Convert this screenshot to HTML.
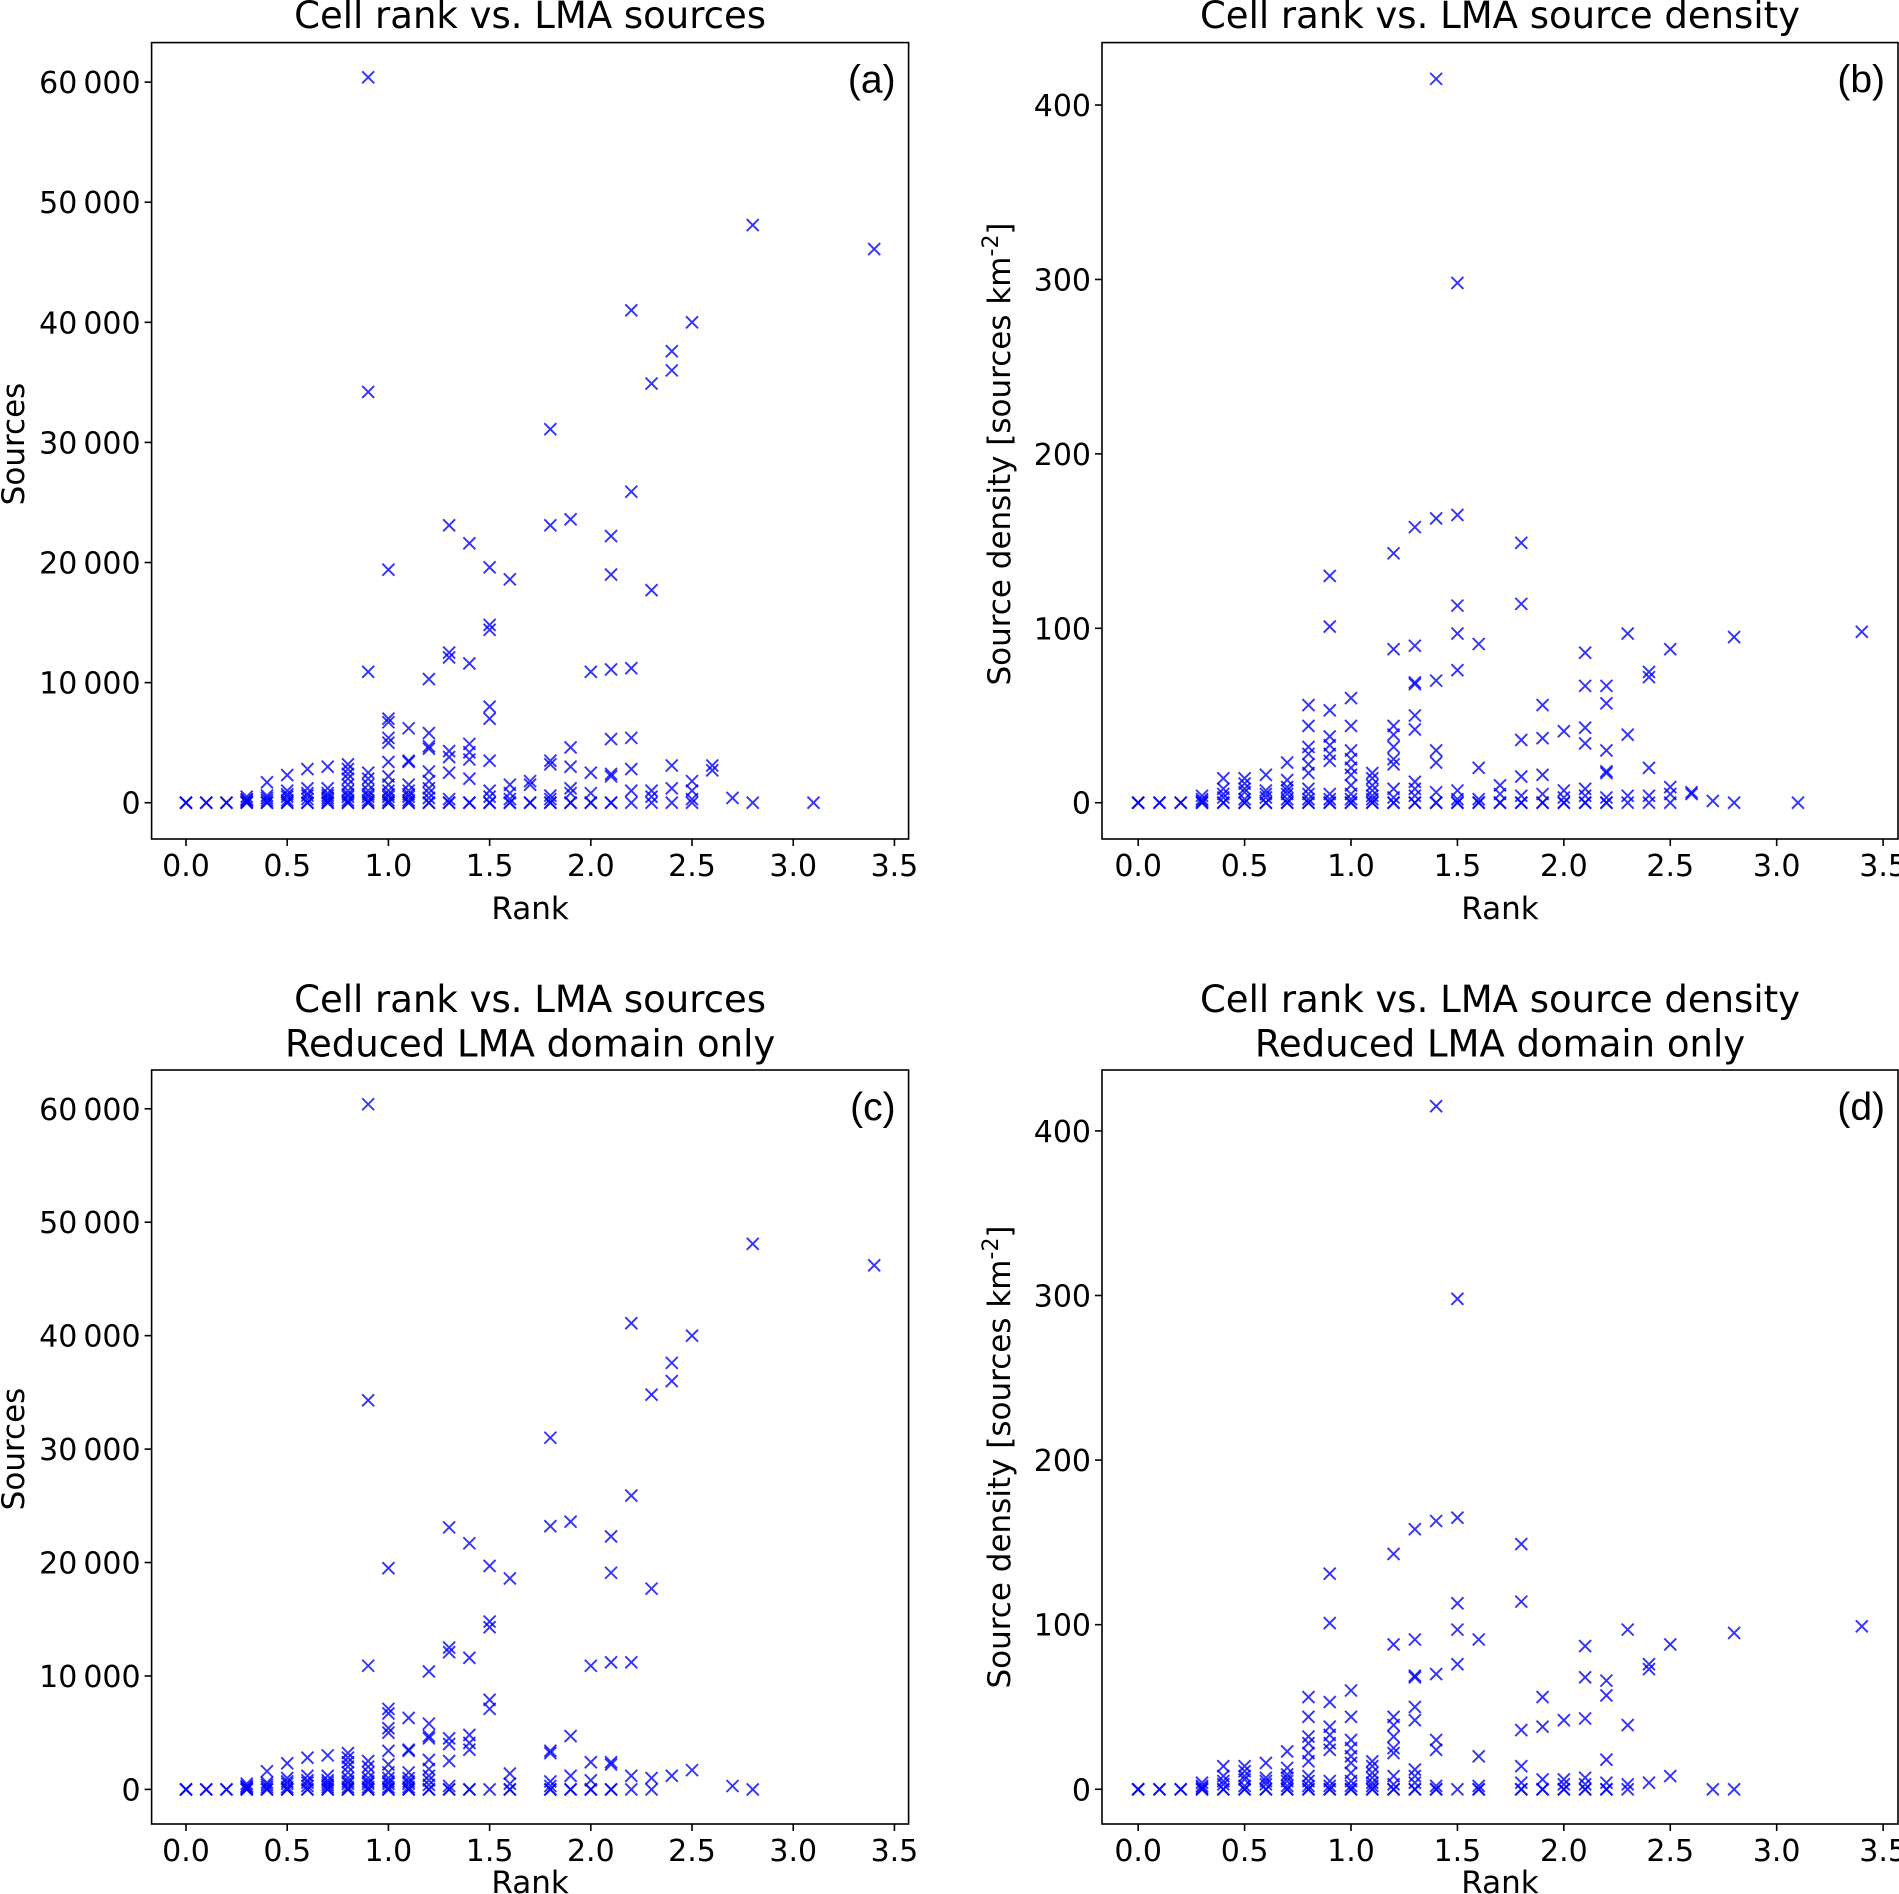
<!DOCTYPE html>
<html><head><meta charset="utf-8"><style>
html,body{margin:0;padding:0;background:#fff}
svg{display:block}
text{font-family:"DejaVu Sans","Liberation Sans",sans-serif;fill:#000}
</style></head><body>
<svg id="fig" width="1899" height="1894" viewBox="0 0 1899 1894" xmlns="http://www.w3.org/2000/svg"></svg>
<script>
// ---- data: ranks and values per panel ----
const ranksA = [0.0,0.1,0.2,0.3,0.4,0.5,0.6,0.7,0.8,0.9,1.0,1.1,1.2,1.3,1.4,1.5,1.6,1.7,1.8,1.9,2.0,2.1,2.2,2.3,2.4,2.5,2.6,2.7,2.8,3.1,3.4];
const valuesA = [[0,0,0],[0,0],[0,0],[500,300,200,100,0,0],[1700,600,400,200,0,0],[2300,1000,700,500,200,0,0],[2800,1200,800,600,300,0,0],[3000,1200,800,600,400,200,0,0],
 [3200,2800,2400,2000,1500,1000,700,500,200,0,0],[60400,34200,10900,2500,2000,1500,1000,700,500,200,0,0],
 [19400,7000,6700,5400,5000,3400,2200,1500,1000,700,500,200,0,0],[6200,3500,3400,1500,1000,700,500,200,0,0],
 [10300,5800,4700,4500,2600,1800,1200,800,400,0,0],[23100,12500,12100,4300,3800,2500,300,0,0],
 [21600,11600,4900,4200,3600,2000,0,0],[19600,14800,14400,8000,7000,3500,1000,500,0,0],[18600,1500,800,300,0,0],
 [1800,1500,0,0],[31100,23100,3500,3200,600,300,0,0],[23600,4600,3000,1200,800,0,0],[10900,2500,800,0,0],
 [22200,19000,11100,5300,2400,2200,0,0],[41000,25900,11200,5400,2800,1000,0],[34900,17700,1000,500,0],
 [37600,36000,3100,1200,0],[40000,1800,1000,300,0],[3100,2700],[400],[48100,0],[0],[46100]];
const ranksB = [0.0,0.1,0.2,0.3,0.4,0.5,0.6,0.7,0.8,0.9,1.0,1.1,1.2,1.3,1.4,1.5,1.6,1.7,1.8,1.9,2.0,2.1,2.2,2.3,2.4,2.5,2.6,2.7,2.8,3.1,3.4];
const valuesB = [[0,0,0],[0,0],[0,0],[4,2,1,0,0],[14,8,5,3,0,0],[14,11,8,6,2,0,0],[16,7,5,3,0,0],[23,13,9,7,5,2,0,0],
 [56,44,32,28,22,17,8,5,2,0,0],[130,101,53,38,33,28,24,5,2,0,0],[60,44,30,25,20,16,10,5,2,0,0],[17,14,10,7,4,2,0,0],
 [143,88,44,39,32,25,22,8,3,0,0],[158,90,69,68,50,42,12,8,4,0,0],[415,163,70,30,23,6,0,0],[298,165,113,97,76,7,2,0,0],
 [91,20,2,0,0],[10,5,0,0],[149,114,36,15,4,0,0],[56,37,16,5,0,0],[41,7,3,0,0],[86,67,43,34,8,4,0,0],[67,57,30,18,17,3,0,0],
 [97,39,4,0],[75,72,20,4,0],[88,9,5,0],[6,5],[1],[95,0],[0],[98]];
const ranksC = [0.0,0.1,0.2,0.3,0.4,0.5,0.6,0.7,0.8,0.9,1.0,1.1,1.2,1.3,1.4,1.5,1.6,1.8,1.9,2.0,2.1,2.2,2.3,2.4,2.5,2.7,2.8,3.4];
const valuesC = [[0,0,0],[0,0],[0,0],[500,300,200,100,0,0],[1600,600,400,200,0,0],[2300,1000,700,500,200,0,0],[2800,1200,800,600,300,0,0],[3000,1200,800,600,400,200,0,0],
 [3200,2800,2400,2000,1500,1000,700,500,200,0,0],[60400,34300,10900,2500,2000,1500,1000,700,500,200,0,0],
 [19500,7100,6700,5400,5000,3400,2200,1500,1000,700,500,200,0,0],[6300,3500,3400,1500,1000,700,500,200,0,0],
 [10400,5800,4700,4500,2600,1800,1200,800,400,0,0],[23100,12500,12100,4500,4000,2500,300,0,0],
 [21700,11600,4800,4100,3500,0,0],[19700,14800,14300,7900,7100,0],[18600,1400,500,0,0],
 [31000,23200,3400,3200,700,300,0,0],[23600,4700,1200,0,0],[10900,2400,800,0,0],[22300,19100,11200,2400,2200,0,0],
 [41100,25900,11200,1200,0],[34800,17700,1000,0],[37600,36000,1200],[40000,1700],[300],[48100,0],[46200]];
const ranksD = [0.0,0.1,0.2,0.3,0.4,0.5,0.6,0.7,0.8,0.9,1.0,1.1,1.2,1.3,1.4,1.5,1.6,1.8,1.9,2.0,2.1,2.2,2.3,2.4,2.5,2.7,2.8,3.4];
const valuesD = [[0,0,0],[0,0],[0,0],[4,2,1,0,0],[14,8,5,3,0,0],[14,11,8,6,2,0,0],[16,7,5,3,0,0],[23,13,9,7,5,2,0,0],
 [56,44,32,28,22,17,8,5,2,0,0],[131,101,53,38,33,28,24,5,2,0,0],[60,44,30,25,20,16,10,5,2,0,0],[17,14,10,7,4,2,0,0],
 [143,88,44,39,32,25,22,8,3,0,0],[158,91,69,68,50,42,12,8,4,0,0],[415,163,70,30,24,2,0,0],[298,165,113,97,76,0],
 [91,20,2,0,0],[149,114,36,14,4,0,0],[56,38,6,0,0],[42,6,3,0,0],[87,68,43,7,3,0,0],[66,57,18,4,0,0],
 [97,39,3,0],[76,73,4],[88,8],[0],[95,0],[99]];
const xTicks = [0.0,0.5,1.0,1.5,2.0,2.5,3.0,3.5];
const xTickLabels = ["0.0","0.5","1.0","1.5","2.0","2.5","3.0","3.5"];
const yTicksSources = [0,10000,20000,30000,40000,50000,60000];
const yTickLabelsSources = ["0","10\u2009000","20\u2009000","30\u2009000","40\u2009000","50\u2009000","60\u2009000"];
const yTicksDensity = [0,100,200,300,400];
const yTickLabelsDensity = ["0","100","200","300","400"];

const NS="http://www.w3.org/2000/svg";
const svg=document.getElementById('fig');
function mk(tag,attrs,parent){const e=document.createElementNS(NS,tag);for(const k in attrs)e.setAttribute(k,attrs[k]);(parent||svg).appendChild(e);return e;}

function panel(cfg){
  const g=mk('g',{});
  
  
  const {L,R,T,B,xmin,xmax,ymin,ymax}=cfg;
  const sx=v=>L+(v-xmin)/(xmax-xmin)*(R-L);
  const sy=v=>B-(v-ymin)/(ymax-ymin)*(B-T);
  const pts=mk('g',{stroke:'#0000ff','stroke-width':1.9,'stroke-opacity':0.8,fill:'none'},g);
  
  
  const s=6;
  cfg.ranks.forEach((r,i)=>{cfg.values[i].forEach(v=>{
    const x=sx(r),y=sy(v);
    const p=mk('path',{d:`M${x-s},${y-s}L${x+s},${y+s}M${x-s},${y+s}L${x+s},${y-s}`},pts);
    
    
  });});
  const fr=mk('rect',{x:L,y:T,width:R-L,height:B-T,fill:'none',stroke:'#000','stroke-width':1.6},g);
  
  
  xTicks.forEach((t,i)=>{
    const x=sx(t);
    mk('line',{x1:x,x2:x,y1:B,y2:B+7,stroke:'#000','stroke-width':1.6},g);
    const tx=mk('text',{x:x,y:cfg.xtickY,'text-anchor':'middle','font-size':30},g);
    tx.textContent=xTickLabels[i];
    
    
  });
  cfg.yticks.forEach((t,i)=>{
    const y=sy(t);
    mk('line',{x1:L-7,x2:L,y1:y,y2:y,stroke:'#000','stroke-width':1.6},g);
    const tx=mk('text',{x:L-11,y:y+11,'text-anchor':'end','font-size':30},g);
    tx.textContent=cfg.ylabels[i];
    
    
  });
  const xl=mk('text',{x:(L+R)/2,y:cfg.xlabelY,'text-anchor':'middle','font-size':31},g);
  xl.textContent='Rank';
  
  
  const yl=mk('text',{x:0,y:0,'text-anchor':'middle','font-size':31,transform:`translate(${cfg.ylabelX},${cfg.ylabelCY}) rotate(-90)`},g);
  if(cfg.density){yl.innerHTML='Source density [sources km<tspan dy="-12" font-size="22">-2</tspan><tspan dy="12">]</tspan>';}
  else yl.textContent='Sources';
  
  
  cfg.title.forEach((line,i)=>{
    const t=mk('text',{x:(L+R)/2,y:cfg.titleY+i*44.5,'text-anchor':'middle','font-size':37},g);
    t.textContent=line;
    
    
  });
  const lab=mk('text',{x:R-13,y:T+50,'text-anchor':'end','font-size':39,style:'font-family:"Liberation Sans",sans-serif'},g);
  lab.textContent=cfg.letter;
  
  
}
const X0=-0.17,X1=3.57;
panel({name:'panel-a',L:151.6,R:908.6,T:42.6,B:839,xmin:X0,xmax:X1,ymin:-3020,ymax:63290,ranks:ranksA,values:valuesA,
  yticks:yTicksSources,ylabels:yTickLabelsSources,xtickY:876,xlabelY:919,ylabelX:24,ylabelCY:444,title:['Cell rank vs. LMA sources'],titleY:28,letter:'(a)'});
panel({name:'panel-b',L:1102,R:1898,T:42.6,B:839,xmin:X0,xmax:X1,ymin:-20.8,ymax:435.8,ranks:ranksB,values:valuesB,density:true,
  yticks:yTicksDensity,ylabels:yTickLabelsDensity,xtickY:876,xlabelY:919,ylabelX:1010,ylabelCY:454,title:['Cell rank vs. LMA source density'],titleY:28,letter:'(b)'});
panel({name:'panel-c',L:151.6,R:908.6,T:1070,B:1824,xmin:X0,xmax:X1,ymin:-3050,ymax:63420,ranks:ranksC,values:valuesC,
  yticks:yTicksSources,ylabels:yTickLabelsSources,xtickY:1861,xlabelY:1893,ylabelX:24,ylabelCY:1449,title:['Cell rank vs. LMA sources','Reduced LMA domain only'],titleY:1012,letter:'(c)'});
panel({name:'panel-d',L:1102,R:1898,T:1070,B:1824,xmin:X0,xmax:X1,ymin:-21.1,ymax:437,ranks:ranksD,values:valuesD,density:true,
  yticks:yTicksDensity,ylabels:yTickLabelsDensity,xtickY:1861,xlabelY:1893,ylabelX:1010,ylabelCY:1457,title:['Cell rank vs. LMA source density','Reduced LMA domain only'],titleY:1012,letter:'(d)'});
</script>
</body></html>
